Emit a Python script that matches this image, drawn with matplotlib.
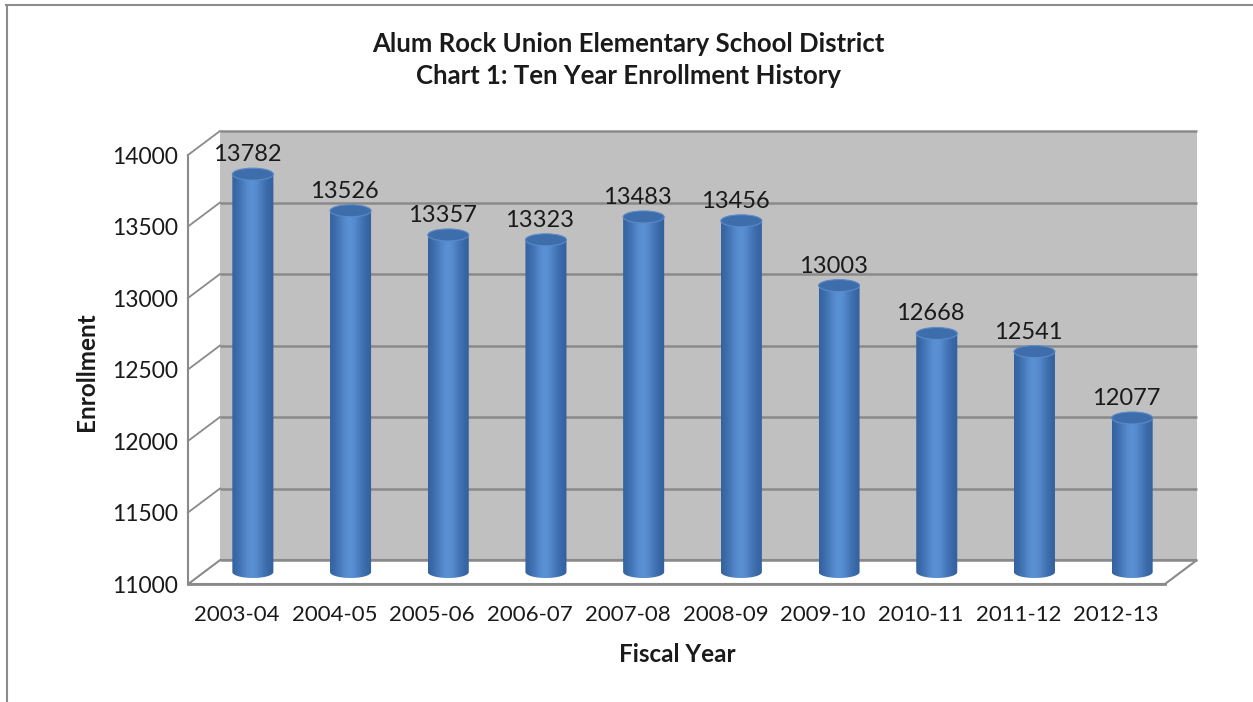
import numpy as np
import matplotlib
matplotlib.use("Agg")
import matplotlib.pyplot as plt
from matplotlib.patches import Polygon, Ellipse
from matplotlib.lines import Line2D

years = ["2003-04", "2004-05", "2005-06", "2006-07", "2007-08",
         "2008-09", "2009-10", "2010-11", "2011-12", "2012-13"]
enrollment = [13782, 13526, 13357, 13323, 13483, 13456, 13003, 12668, 12541, 12077]
y_ticks = [11000, 11500, 12000, 12500, 13000, 13500, 14000]

title = "Alum Rock Union Elementary School District\nChart 1: Ten Year Enrollment History"
xlabel = "Fiscal Year"
ylabel = "Enrollment"

plt.rcParams['font.family'] = ['Lato', 'DejaVu Sans']

W, H = 1253, 702
fig = plt.figure(figsize=(W / 100, H / 100), dpi=100)
fig.patch.set_facecolor('white')

# front plane of the 3D box
x0p, x1p, ybp, ytp = 188, 1165, 584, 155
ax = fig.add_axes([x0p / W, (H - ybp) / H, (x1p - x0p) / W, (ybp - ytp) / H])
n = len(years)
ymin, ymax = y_ticks[0], y_ticks[-1]
for s in ax.spines.values():
    s.set_visible(False)
ax.patch.set_alpha(0)

# depth offset (display px -> data units)
dpx, dpy = 32, 24
ux = n / (x1p - x0p)
uy = (ymax - ymin) / (ybp - ytp)
dx, dy = dpx * ux, dpy * uy

grid_c = '#8a8a8a'
xl, xr = -0.5, n - 0.5

# back wall
ax.add_patch(Polygon([(xl + dx, ymin + dy), (xr + dx, ymin + dy),
                      (xr + dx, ymax + dy), (xl + dx, ymax + dy)],
                     closed=True, facecolor='#c0c0c0', edgecolor='none',
                     clip_on=False, zorder=1))
# floor
ax.add_patch(Polygon([(xl, ymin), (xr, ymin), (xr + dx, ymin + dy), (xl + dx, ymin + dy)],
                     closed=True, facecolor='white', edgecolor=grid_c, lw=1.5,
                     clip_on=False, zorder=1.5))
# left wall
ax.add_patch(Polygon([(xl, ymin), (xl + dx, ymin + dy), (xl + dx, ymax + dy), (xl, ymax)],
                     closed=True, facecolor='white', edgecolor='none',
                     clip_on=False, zorder=1.5))
ax.plot([xl, xl], [ymin, ymax], color=grid_c, lw=1.5, clip_on=False, zorder=2)
for g in y_ticks:
    ax.plot([xl + dx, xr + dx], [g + dy, g + dy], color=grid_c, lw=1.8,
            clip_on=False, zorder=2, solid_capstyle='butt')
    ax.plot([xl, xl + dx], [g, g + dy], color=grid_c, lw=1.3,
            clip_on=False, zorder=2)
ax.plot([xl, xr], [ymin, ymin], color=grid_c, lw=2, clip_on=False, zorder=2)

# cylinders at mid depth
rx = 0.21
ry = 6 * uy
dark = np.array([0x2b, 0x58, 0x94]) / 255
light = np.array([0x5a, 0x90, 0xd4]) / 255
t = np.linspace(-1, 1, 200)
s = 0.12 + 0.88 * np.exp(-((t + 0.05) / 0.62) ** 2)
grad = (dark[None, :] + (light - dark)[None, :] * s[:, None])[None, :, :]
th = np.linspace(0, np.pi, 60)
for i, v in enumerate(enrollment):
    cx = i + dx / 2
    base = ymin + dy / 2
    top = v + dy / 2
    outline = [(cx - rx, top), (cx + rx, top)]
    outline += [(cx + rx * np.cos(a), base - ry * np.sin(a)) for a in th]
    clip = Polygon(outline, closed=True, transform=ax.transData)
    im = ax.imshow(grad, extent=[cx - rx, cx + rx, base - ry, top], aspect='auto',
                   interpolation='bilinear', zorder=3, origin='lower')
    im.set_clip_path(clip)
    ax.add_patch(Ellipse((cx, top), 2 * rx, 2 * ry, facecolor='#3e6dac',
                         edgecolor='#5a8ac8', lw=0.8, clip_on=False, zorder=4))
    ax.annotate(f"{v}", (cx, top + ry), xytext=(-6, 7), textcoords='offset pixels',
                ha='center', va='baseline', fontsize=17, color='#1a1a1a',
                annotation_clip=False, zorder=5)

ax.set_xlim(-0.5, n - 0.5)
ax.set_ylim(ymin, ymax)
ax.set_aspect('auto')
ax.set_xticks(range(n))
ax.set_xticklabels(years, fontsize=16, color='#1a1a1a')
ax.set_yticks(y_ticks)
ax.set_yticklabels([str(t) for t in y_ticks], fontsize=16.5, color='#1a1a1a')
ax.tick_params(axis='both', length=0)
ax.tick_params(axis='x', pad=15)
ax.tick_params(axis='y', pad=7)

fig.text(628 / W, 1 - 60 / H, title, ha='center', va='center', fontsize=18.5,
         fontweight='bold', color='#1a1a1a', linespacing=1.4)
fig.text(677 / W, 1 - 655 / H, xlabel, ha='center', va='center', fontsize=17.5,
         fontweight='bold', color='#1a1a1a')
fig.text(86 / W, 1 - 372 / H, ylabel, ha='center', va='center', fontsize=17.5,
         fontweight='bold', color='#1a1a1a', rotation=90)

# outer border (top and left)
fig.add_artist(Line2D([6 / W, 1], [1 - 5 / H, 1 - 5 / H], color='#8c8c8c', lw=1.5))
fig.add_artist(Line2D([7 / W, 7 / W], [0, 1 - 5 / H], color='#8c8c8c', lw=1.5))

fig.savefig("out.png", dpi=100)
